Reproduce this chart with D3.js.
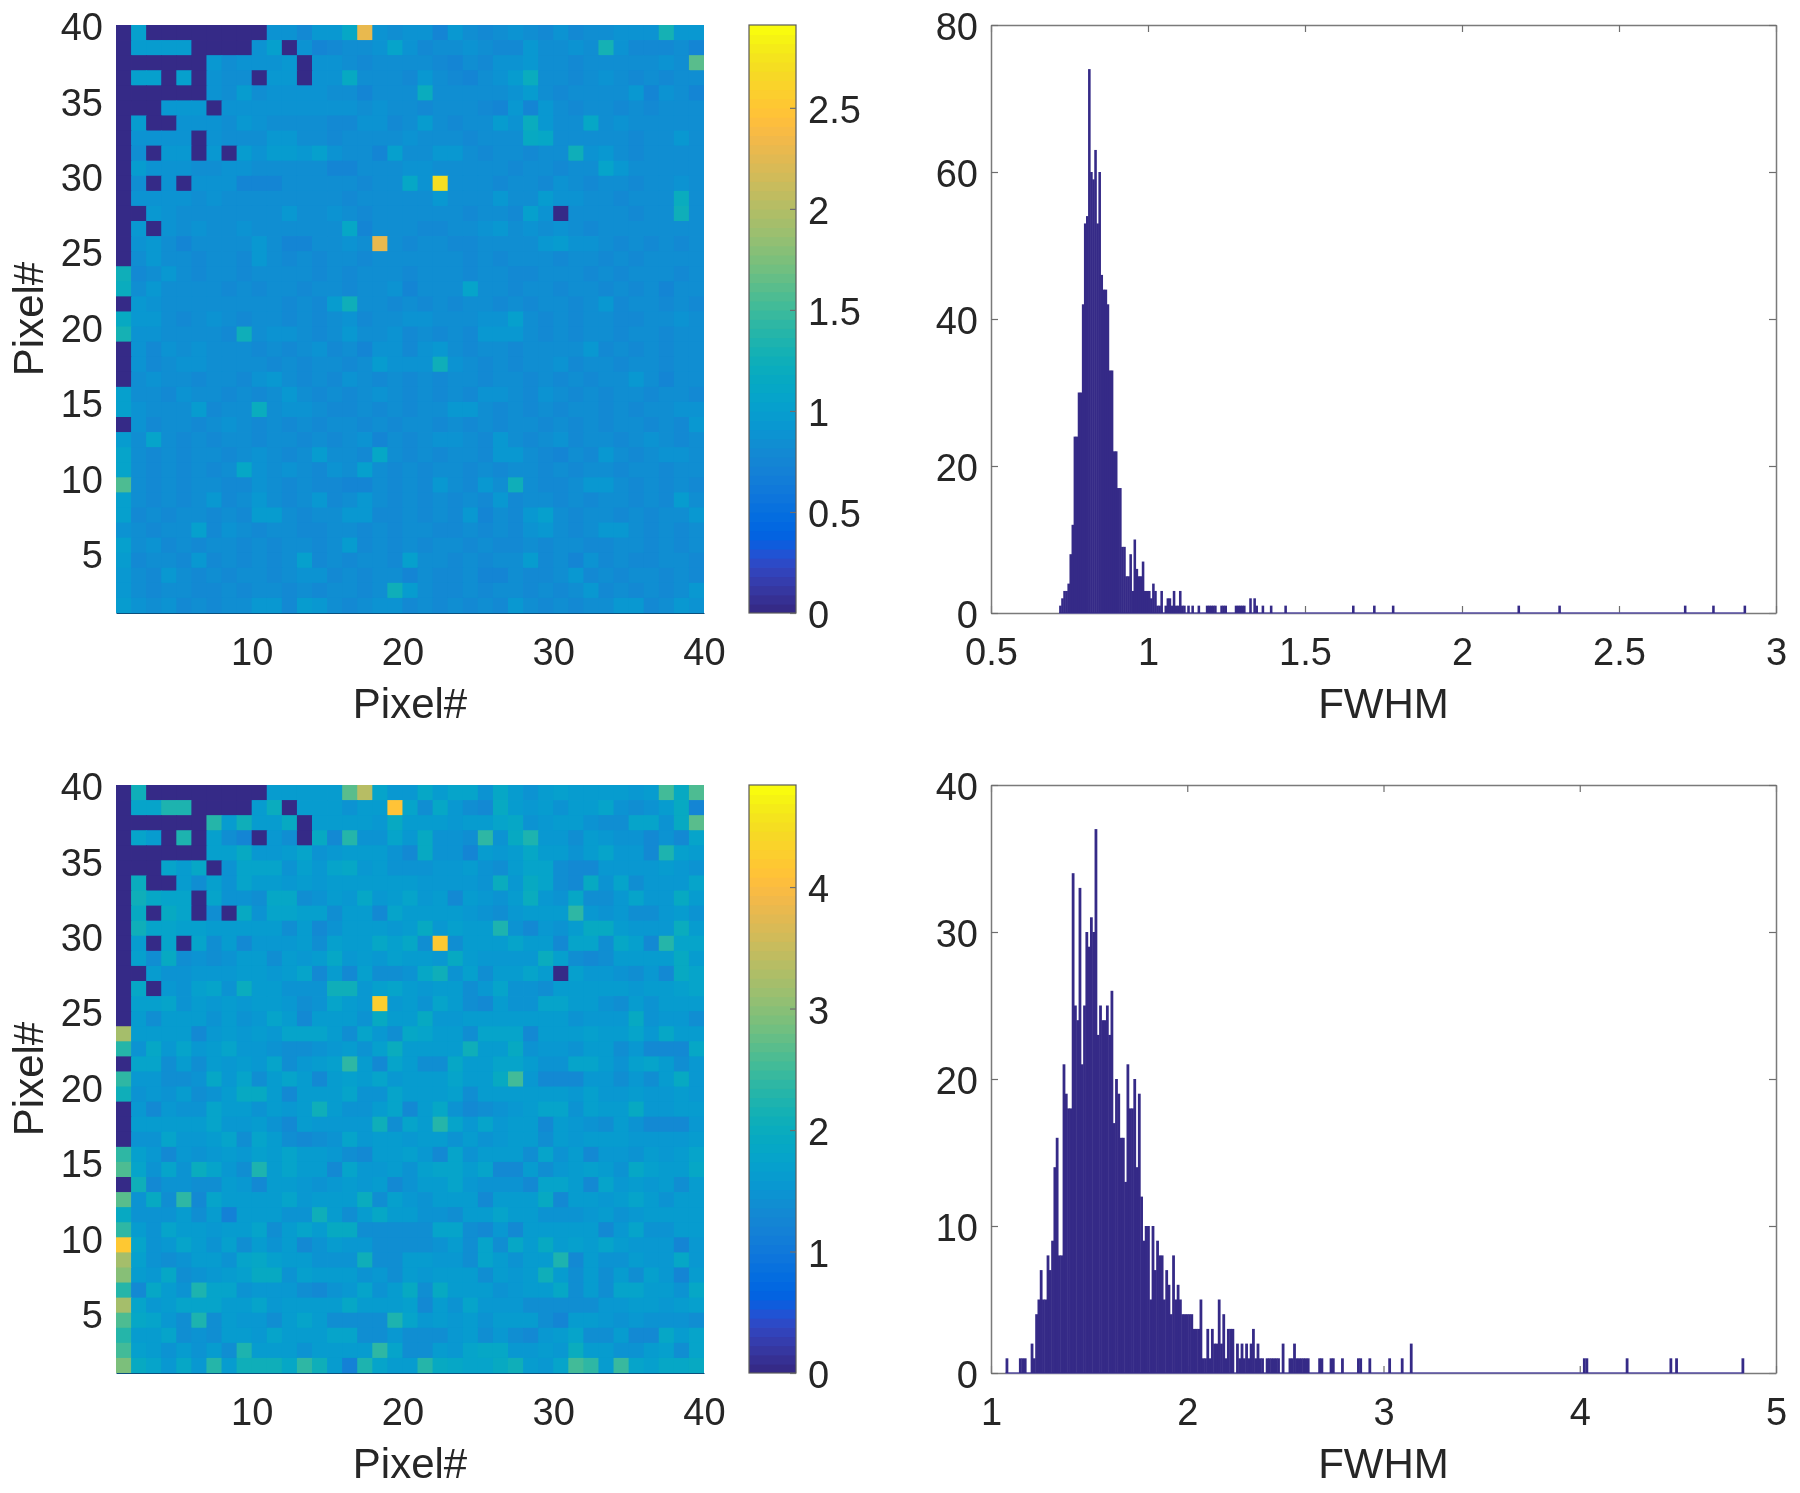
<!DOCTYPE html>
<html>
<head>
<meta charset="utf-8">
<title>FWHM maps</title>
<script src="https://cdn.jsdelivr.net/npm/d3@7"></script>
<style>
  html, body { margin: 0; background: #fff; }
  svg { display: block; filter: blur(0.6px); }
  text { font-family: "Liberation Sans", Arial, sans-serif; fill: #262626; }
</style>
</head>
<body>
<svg id="chart" width="1800" height="1493"></svg>
<script>
// FWHM per pixel, hundredths, top row (y = 39..40) first
const fwhmMapTop = [
  [0,102,0,0,0,0,0,0,0,0, 89,89,81,92,92,110,230,87,83,89, 89,77,92,85,79,85,87,85,79,89, 79,85,83,87,87,87,130,92,92],
  [0,97,97,97,97,0,0,0,0,87, 102,0,87,77,79,83,83,87,105,87, 79,85,85,87,83,80,80,92,85,85, 87,85,130,87,80,80,80,82,77],
  [0,0,0,0,0,0,92,82,87,87, 89,95,0,89,87,83,81,83,85,83, 82,81,77,82,80,87,87,92,83,82, 81,82,83,85,85,83,87,85,160],
  [0,102,102,0,102,0,87,83,82,0, 92,92,0,89,87,115,83,83,85,81, 92,85,81,75,82,89,97,120,85,82, 81,82,87,82,80,82,81,82,85],
  [0,0,0,0,0,0,87,83,97,85, 87,87,87,87,85,83,77,83,85,83, 120,85,83,82,85,83,87,97,85,81, 82,83,83,85,92,77,89,83,77],
  [0,0,0,95,95,95,0,87,87,87, 87,89,87,87,87,87,85,87,83,85, 81,85,83,85,81,75,92,77,92,82, 80,85,82,81,82,81,85,83,85],
  [0,97,0,0,87,89,89,85,92,89, 85,85,83,85,81,79,87,87,80,85, 97,82,79,85,83,97,89,120,92,85, 83,110,82,89,85,83,85,82,82],
  [0,89,89,89,89,0,87,85,82,82, 95,95,85,82,81,82,85,85,83,87, 85,83,82,81,85,83,85,115,110,85, 83,82,85,82,81,85,82,92,85],
  [0,85,0,92,92,0,92,0,97,87, 97,99,92,102,87,85,83,77,102,83, 82,92,92,82,81,85,82,80,85,82, 125,87,92,82,81,85,82,85,82],
  [0,97,89,87,87,85,82,87,87,85, 85,83,85,83,77,77,82,85,85,87, 89,85,83,82,85,82,81,85,83,79, 82,85,107,95,85,83,85,85,85],
  [0,82,0,89,0,87,87,89,77,77, 77,82,85,83,85,82,81,85,83,110, 87,270,82,85,82,80,82,82,81,87, 82,81,82,82,80,82,85,87,85],
  [0,89,89,89,89,82,87,82,85,85, 83,85,82,85,82,81,82,85,85,83, 85,95,83,85,82,95,85,82,97,87, 87,82,82,81,82,85,85,120,82],
  [0,0,92,87,82,85,85,83,85,83, 85,92,82,85,87,82,81,83,85,85, 83,82,82,80,82,82,81,102,87,0, 85,83,82,82,81,82,85,125,82],
  [0,92,0,87,85,87,85,83,89,82, 85,83,82,85,82,110,77,85,82,83, 79,79,82,85,89,92,82,89,85,87, 82,81,85,83,82,82,85,85,82],
  [0,87,92,82,77,85,85,82,85,92, 82,77,77,82,85,87,82,230,82,79, 85,83,79,79,82,85,83,85,92,99, 89,87,82,81,82,80,82,81,82],
  [0,85,92,82,82,81,82,82,79,92, 82,81,82,80,82,82,81,85,85,82, 85,83,82,81,82,80,82,82,82,81, 85,82,80,82,81,82,85,82,82],
  [125,79,82,92,82,81,82,82,79,85, 85,83,82,81,82,80,82,82,85,81, 85,83,82,79,85,82,81,79,82,82, 82,80,82,81,82,82,85,81,82],
  [120,85,92,82,85,85,82,81,82,80, 82,82,81,82,82,80,82,82,89,77, 85,85,83,107,85,82,81,85,82,81, 82,82,81,82,80,82,77,82,82],
  [0,92,87,85,85,83,85,85,82,85, 82,81,82,80,97,125,85,82,81,82, 80,82,81,82,82,80,82,81,82,82, 80,82,92,81,82,82,81,82,80],
  [115,92,92,82,81,82,87,82,81,85, 82,80,82,81,82,87,79,82,82,89, 89,85,85,83,87,89,102,82,81,82, 80,82,82,81,80,85,85,87,82],
  [130,89,87,82,82,85,82,81,125,85, 87,87,82,81,85,92,82,82,89,81, 82,80,82,81,92,92,95,82,80,82, 81,82,82,80,82,82,81,85,82],
  [0,87,79,87,82,89,85,82,82,81, 82,79,82,89,81,82,77,89,89,79, 87,92,82,81,82,82,80,82,85,82, 82,92,79,82,81,82,80,82,82],
  [0,89,79,85,89,89,85,85,83,82, 81,82,80,82,82,81,82,97,89,89, 89,125,87,82,81,82,80,82,82,89, 81,82,82,80,82,82,81,82,82],
  [0,85,89,85,82,81,82,82,81,89, 92,82,81,82,80,89,82,81,82,80, 82,81,82,82,80,82,82,81,82,80, 82,81,82,82,95,82,77,85,82],
  [102,85,82,81,89,82,82,80,82,81, 82,92,82,81,82,80,82,89,82,81, 82,80,82,81,89,89,82,81,89,82, 80,82,81,82,82,80,82,82,81],
  [102,87,82,82,85,97,79,85,82,120, 82,89,89,82,81,80,82,81,82,80, 82,82,92,92,82,81,82,80,82,81, 82,82,80,82,81,82,82,89,89],
  [0,87,81,82,82,80,82,87,82,81, 82,80,82,81,82,82,80,82,81,82, 82,80,82,81,82,80,82,82,81,82, 80,82,81,82,82,80,82,81,92],
  [97,85,105,82,81,82,80,82,82,81, 85,82,81,82,80,82,89,77,82,81, 82,89,89,82,81,92,82,80,82,89, 81,82,82,80,82,87,82,79,82],
  [105,82,81,82,80,82,82,81,82,89, 82,80,82,99,82,82,81,110,82,80, 82,81,82,82,80,92,92,82,81,77, 82,80,92,82,81,82,89,89,82],
  [105,82,79,82,81,82,80,82,110,89, 82,89,82,81,89,82,102,82,80,82, 81,82,82,80,82,81,82,82,80,82, 81,82,82,80,82,82,81,82,82],
  [155,82,81,82,80,82,82,81,79,87, 82,80,82,81,79,77,77,82,81,82, 80,92,82,79,95,82,125,82,81,80, 82,92,92,82,81,82,79,82,81],
  [102,82,79,82,81,82,95,80,82,95, 82,81,82,92,80,82,95,82,81,82, 80,82,81,82,80,92,79,85,82,81, 82,80,82,82,81,82,80,99,82],
  [102,81,82,80,82,82,81,82,80,99, 97,82,81,82,82,92,92,80,79,82, 81,82,80,92,77,82,81,92,102,82, 80,82,82,81,82,80,82,82,92],
  [89,82,81,82,82,102,80,89,82,81, 82,82,80,81,82,82,80,82,81,82, 82,80,79,82,81,82,80,89,92,82, 81,82,92,92,82,80,82,81,82],
  [102,82,87,80,82,81,82,82,80,82, 81,82,82,80,82,97,81,82,80,82, 81,82,82,80,82,81,79,82,80,82, 82,81,80,82,82,81,82,80,82],
  [97,81,82,82,80,95,79,82,81,82, 79,82,102,81,82,80,82,82,81,102, 85,82,80,82,81,82,82,97,80,82, 75,87,79,82,81,80,82,82,81],
  [95,82,80,92,82,81,82,80,82,82, 81,82,89,89,80,82,81,82,82,77, 82,79,81,82,77,77,82,79,79,82, 92,81,82,80,82,82,81,82,80],
  [95,82,81,82,82,79,80,82,81,82, 82,80,82,81,82,82,80,82,125,99, 82,79,81,82,80,82,82,81,82,80, 82,95,79,82,81,82,80,82,92],
  [97,89,82,89,81,82,80,82,82,95, 95,81,99,92,82,80,82,89,89,81, 82,79,82,80,82,81,95,82,80,82, 81,82,82,92,92,81,82,92,87]
];

const fwhmMapBottom = [
  [0,205,0,0,0,0,0,0,0,0, 160,160,160,165,165,270,340,180,155,155, 185,160,180,175,150,185,160,150,165,170, 165,160,165,165,155,160,250,190,260],
  [0,175,180,220,225,0,0,0,0,160, 200,0,160,160,160,145,165,160,410,180, 140,185,155,140,135,190,160,155,160,150, 160,160,180,145,140,145,165,195,125],
  [0,0,0,0,0,0,230,165,205,160, 165,190,0,165,160,160,160,155,190,160, 160,160,155,160,165,180,185,145,155,160, 160,150,140,140,180,175,145,190,270],
  [0,180,165,0,225,0,170,140,125,0, 155,140,0,190,130,230,145,145,175,155, 195,145,145,140,235,145,195,220,155,155, 140,160,155,145,145,135,150,135,180],
  [0,0,0,0,0,0,170,170,195,155, 155,165,180,150,155,160,160,165,145,130, 195,145,145,125,160,155,165,185,160,160, 150,160,175,155,155,135,220,170,160],
  [0,0,0,180,160,185,0,145,175,175, 175,145,170,155,175,185,155,160,150,145, 145,155,155,160,145,140,160,175,180,140, 130,135,155,155,155,155,160,155,150],
  [0,200,0,0,165,140,170,150,180,160, 160,155,160,155,160,160,160,160,160,160, 155,155,155,155,145,200,155,190,175,140, 135,190,150,175,140,155,155,155,180],
  [0,205,185,180,180,0,180,145,145,140, 185,185,140,150,160,155,185,155,160,175, 155,160,135,160,155,150,160,200,155,145, 185,140,140,155,180,155,155,190,160],
  [0,190,0,190,180,0,140,0,190,150, 175,175,170,170,140,160,160,130,180,160, 160,165,160,155,150,140,155,160,160,160, 235,155,150,155,140,140,155,165,150],
  [0,210,180,180,170,170,165,160,160,160, 165,140,160,135,145,160,165,165,155,160, 195,155,170,160,160,225,150,135,155,145, 165,190,190,160,155,155,155,200,165],
  [0,165,0,175,0,175,140,160,135,155, 155,155,160,140,170,160,160,185,170,185, 140,420,140,160,160,160,180,160,160,135, 175,175,140,185,170,135,230,175,175],
  [0,170,140,195,140,145,140,150,160,165, 140,160,155,160,185,155,165,155,170,165, 160,155,190,160,155,155,155,155,200,170, 140,135,140,160,165,160,165,190,160],
  [0,0,165,145,150,155,155,155,160,160, 155,160,175,130,165,135,170,140,140,145, 185,205,145,170,140,160,160,175,165,0, 170,155,155,150,140,155,135,195,175],
  [0,185,0,155,145,170,180,145,200,160, 160,145,145,150,205,205,155,170,180,160, 155,160,160,140,155,175,145,150,140,160, 160,160,160,160,155,160,160,170,175],
  [0,170,170,175,145,160,155,160,155,160, 165,155,140,145,175,165,155,430,155,160, 145,180,160,140,135,165,145,145,180,180, 160,160,150,140,160,145,160,160,160],
  [0,165,140,160,160,160,150,160,145,155, 180,160,135,165,160,160,150,190,160,160, 195,155,155,165,165,165,165,165,165,160, 150,155,155,155,195,150,155,155,140],
  [320,160,160,160,165,135,155,160,155,160, 155,175,175,180,160,140,180,155,140,185, 175,160,165,140,180,180,180,130,160,165, 165,170,165,165,175,155,185,165,165],
  [230,145,185,155,180,155,160,175,155,155, 150,140,140,150,155,160,145,170,200,165, 165,160,160,205,165,165,190,145,155,155, 145,165,165,140,155,135,135,135,185],
  [0,175,180,140,160,140,160,155,160,155, 180,140,155,165,170,240,160,135,180,160, 140,140,185,160,165,175,180,160,145,150, 175,180,165,145,170,175,160,140,155],
  [240,155,155,140,140,145,185,155,180,140, 165,180,165,135,165,170,165,180,155,160, 165,165,175,165,165,190,250,155,135,135, 135,155,155,140,155,140,160,190,155],
  [205,150,155,145,165,140,145,160,190,190, 165,130,165,165,165,180,150,150,180,160, 160,160,170,140,160,160,160,160,160,160, 155,170,155,155,160,155,155,160,155],
  [0,155,130,155,145,145,175,160,160,150, 165,155,160,205,160,145,145,165,175,135, 160,185,145,135,140,145,155,165,175,180, 150,170,165,165,190,155,155,160,160],
  [0,160,160,160,160,165,180,155,155,165, 150,135,165,155,155,155,155,205,140,175, 160,230,175,155,175,155,160,160,135,165, 155,150,140,160,145,135,135,135,155],
  [0,145,150,180,155,155,165,175,140,175, 160,140,130,140,145,175,155,160,160,155, 160,160,150,160,145,155,165,165,140,165, 155,160,160,165,155,155,155,155,160],
  [240,170,155,130,155,145,155,160,155,170, 160,180,160,160,155,140,135,160,160,170, 155,135,180,150,165,160,160,140,180,145, 160,135,155,155,145,160,155,160,175],
  [260,175,145,180,145,200,180,155,140,225, 160,180,160,160,135,175,155,155,160,145, 170,180,180,160,175,135,135,165,140,155, 165,170,160,145,185,170,165,160,185],
  [0,210,135,150,145,140,140,165,155,135, 160,160,155,150,155,160,155,160,130,145, 160,160,180,155,145,145,145,135,180,180, 160,135,175,155,160,155,160,140,160],
  [270,150,195,140,235,135,175,165,160,160, 160,180,155,160,160,165,200,140,170,155, 150,160,160,160,135,160,165,160,195,130, 160,160,155,160,180,160,150,160,165],
  [195,150,150,145,160,140,160,120,165,165, 160,145,145,205,165,140,160,185,160,165, 145,145,140,160,160,180,160,165,150,150, 150,155,165,145,155,165,160,160,160],
  [240,160,145,175,160,160,155,160,165,175, 140,160,175,160,190,190,140,140,140,140, 140,175,175,140,135,155,135,160,160,160, 160,160,135,155,180,145,150,160,160],
  [420,175,150,155,180,165,145,170,140,160, 145,165,135,145,160,155,155,140,140,140, 140,145,160,140,175,140,185,160,190,160, 170,160,180,165,155,155,155,125,155],
  [320,170,145,140,145,165,165,145,175,185, 170,160,160,150,145,150,205,140,140,160, 160,155,155,140,180,160,145,160,160,225, 135,165,150,150,160,155,155,185,155],
  [300,165,155,185,140,150,155,160,170,195, 195,150,170,160,165,165,145,155,140,160, 155,160,165,160,140,160,155,160,205,165, 140,160,140,160,140,170,155,125,160],
  [230,130,185,165,145,225,175,175,150,155, 155,155,140,135,150,155,180,145,160,195, 140,195,160,160,160,150,155,160,165,185, 140,165,140,180,180,165,160,145,185],
  [320,175,155,160,180,180,180,160,160,180, 155,165,160,160,160,185,160,160,165,170, 130,160,150,180,155,155,155,140,140,140, 140,140,155,155,165,165,155,165,170],
  [260,185,180,155,140,220,140,160,155,155, 140,160,180,165,140,140,140,140,225,180, 155,160,155,165,145,165,165,165,140,125, 160,165,155,150,155,145,145,145,140],
  [230,160,160,180,140,145,140,160,165,155, 180,160,160,160,180,180,140,140,155,140, 140,140,155,160,140,155,140,135,155,160, 180,140,140,165,135,130,185,160,180],
  [250,170,165,150,165,145,165,140,220,165, 165,160,145,160,165,160,160,240,175,140, 140,160,155,180,185,185,155,155,160,155, 200,165,165,145,150,160,170,140,175],
  [290,190,175,155,185,155,230,160,205,205, 205,185,240,205,160,120,225,175,165,165, 230,190,185,180,180,190,205,160,155,175, 250,235,165,245,175,170,185,185,190]
];

// histogram counts, one entry per bin from the first bin on
const histTopCounts = [1,2,3,3,4,8,12,24,24,30,30,42,53,54,74,60,59,63,53,60,46,44,44,42,33,33,22,22,17,17,9,9,5,5,8,3,10,6,5,5,7,3,3,3,2,4,3,1,1,3,0,1,2,2,1,3,1,1,3,1,1,0,1,0,1,0,0,1,0,0,0,1,1,1,1,1,0,0,1,1,1,0,0,0,0,1,1,1,1,1,0,0,2,0,2,1,0,0,1,0,0,0,1,0,0,0,0,0,0,1];
const histTopStart = 0.717;
const histTopBin = 0.00658;
const histTopExtra = [1.653, 1.72, 1.78, 2.18, 2.31, 2.71, 2.8, 2.9];

const histBottomCounts = [2,1,4,5,7,5,5,8,7,9,14,16,8,8,21,19,18,18,34,25,24,33,21,25,30,29,31,30,37,23,25,24,24,25,23,26,17,20,19,16,16,13,21,18,18,20,14,19,12,9,10,10,5,10,7,9,8,8,5,7,6,4,8,5,6,5,4,4,4,4,4,3,3,3,5,1,1,3,1,3,2,2,5,2,4,1,3,3,3,0,2,1,2,1,2,1,2,3,1,2,1,1,0,1,1,1,1,1,1,0,2,0,0,1,1,2,1,1,1,1,1,1,0,0,0,0,1,1,0,0,0,1,1,0,0,0,1,0,0,0,0,0,0,1,1,0,0,0,1];
const histBottomStart = 1.202;
const histBottomBin = 0.01163;
const histBottomExtra = [1.08, 1.148, 1.16, 1.173, 3.03, 3.094, 3.14, 3.14, 4.022, 4.035, 4.24, 4.463, 4.492, 4.83];

const pixelTicksX = [10, 20, 30, 40];
const pixelTicksY = [5, 10, 15, 20, 25, 30, 35, 40];
const colorbarTopTicks = [0, 0.5, 1, 1.5, 2, 2.5];
const colorbarBottomTicks = [0, 1, 2, 3, 4];
const histTopTicksX = [0.5, 1, 1.5, 2, 2.5, 3];
const histTopTicksY = [0, 20, 40, 60, 80];
const histBottomTicksX = [1, 2, 3, 4, 5];
const histBottomTicksY = [0, 10, 20, 30, 40];

// parula, 64 steps
const parula = [[.2081,.1663,.5292],[.2116,.1898,.5777],[.2123,.2138,.627],[.2081,.2386,.6771],[.1959,.2645,.7279],[.1707,.2919,.7792],[.1253,.3242,.8303],[.0591,.3598,.8683],[.0117,.3875,.882],[.006,.4086,.8828],[.0165,.4266,.8786],[.0329,.443,.872],[.0498,.4586,.8641],[.0629,.4737,.8554],[.0723,.4887,.8467],[.0779,.504,.8384],[.0793,.52,.8312],[.0749,.5375,.8263],[.0641,.557,.824],[.0488,.5772,.8228],[.0343,.5966,.8199],[.0265,.6137,.8135],[.0239,.6287,.8038],[.0231,.6418,.7913],[.0228,.6535,.7768],[.0267,.6642,.7607],[.0384,.6743,.7436],[.059,.6838,.7254],[.0843,.6928,.7062],[.1133,.7015,.6859],[.1453,.7098,.6646],[.1801,.7177,.6424],[.2178,.725,.6193],[.2586,.7317,.5954],[.3022,.7376,.5712],[.3482,.7424,.5473],[.3953,.7459,.5244],[.442,.7481,.5033],[.4871,.7491,.484],[.53,.7491,.4661],[.5709,.7485,.4494],[.6099,.7473,.4337],[.6473,.7456,.4188],[.6834,.7435,.4044],[.7184,.7411,.3905],[.7525,.7384,.3768],[.7858,.7356,.3633],[.8185,.7327,.3498],[.8507,.7299,.336],[.8824,.7274,.3217],[.9139,.7258,.3063],[.945,.7261,.2886],[.9739,.7314,.2666],[.9938,.7455,.2403],[.999,.7653,.2164],[.9955,.7861,.1967],[.988,.8066,.1794],[.9789,.8271,.1633],[.9697,.8481,.1475],[.9626,.8705,.1309],[.9589,.8949,.1132],[.9598,.9218,.0948],[.9661,.9514,.0755],[.9763,.9831,.0538]]
  .map((c) => d3.rgb(c[0] * 255, c[1] * 255, c[2] * 255).formatHex());

const svg = d3.select("#chart");

const tickFont = 38;
const labelFont = 42;
const boxColor = "#7a7a7a";

function styleTicks(axisG) {
  axisG.selectAll("text").attr("font-size", tickFont).attr("fill", "#262626");
  axisG.selectAll("line").attr("stroke", "#6e6e6e").attr("stroke-width", 1.2);
  axisG.select(".domain").attr("stroke", boxColor).attr("stroke-width", 1.5);
}

function addLabels(left, right, top, bottom, xName, yName) {
  svg.append("text")
    .attr("x", (left + right) / 2)
    .attr("y", bottom + 105)
    .attr("text-anchor", "middle")
    .attr("font-size", labelFont)
    .text(xName);
  if (yName) {
    svg.append("text")
      .attr("transform", `translate(43,${(top + bottom) / 2}) rotate(-90)`)
      .attr("text-anchor", "middle")
      .attr("font-size", labelFont)
      .text(yName);
  }
}

function drawMap(matrix, top, maxValue, barTicks) {
  const left = 116, right = 704, bottom = top + 588;
  const x = d3.scaleLinear().domain([1, 40]).range([left, right]);
  const y = d3.scaleLinear().domain([1, 40]).range([bottom, top]);
  const color = d3.scaleQuantize().domain([0, maxValue]).range(parula);

  matrix.forEach((row, r) => {
    svg.append("g").selectAll("rect")
      .data(row)
      .enter()
      .append("rect")
      .attr("x", (d, c) => x(c + 1))
      .attr("y", y(40 - r))
      .attr("width", (d, c) => Math.min(x(c + 2) + 0.8, right) - x(c + 1))
      .attr("height", Math.min(y(39 - r) + 0.8, bottom) - y(40 - r))
      .attr("fill", (d) => color(d / 100));
  });

  const xAxis = svg.append("g")
    .attr("transform", `translate(0,${bottom})`)
    .call(d3.axisBottom(x).tickValues(pixelTicksX).tickSize(0).tickPadding(25));
  styleTicks(xAxis);
  xAxis.select(".domain").attr("stroke", "#0b4f7c").attr("stroke-width", 1.2);

  const yAxis = svg.append("g")
    .attr("transform", `translate(${left},0)`)
    .call(d3.axisLeft(y).tickValues(pixelTicksY).tickSize(0).tickPadding(13));
  styleTicks(yAxis);
  yAxis.selectAll("text").attr("dy", "0.39em");
  yAxis.select(".domain").remove();

  // colorbar
  const barLeft = 749, barRight = 796;
  const cy = d3.scaleLinear().domain([0, maxValue]).range([bottom, top]);
  const steps = color.thresholds().concat([maxValue]);
  svg.append("g").selectAll("rect")
    .data(parula)
    .enter()
    .append("rect")
    .attr("x", barLeft)
    .attr("width", barRight - barLeft)
    .attr("y", (d, i) => cy(steps[i]))
    .attr("height", (d, i) => Math.min(cy(steps[i]) + (bottom - top) / parula.length + 0.8, bottom) - cy(steps[i]))
    .attr("fill", (d) => d);
  svg.append("rect")
    .attr("x", barLeft).attr("y", top)
    .attr("width", barRight - barLeft).attr("height", bottom - top)
    .attr("fill", "none").attr("stroke", "#5a5a5a").attr("stroke-width", 1.2);
  const barAxis = svg.append("g")
    .attr("transform", `translate(${barRight},0)`)
    .call(d3.axisRight(cy).tickValues(barTicks).tickSizeInner(-6).tickSizeOuter(0).tickPadding(12).tickFormat((d) => d));
  styleTicks(barAxis);
  barAxis.selectAll("text").attr("dy", "0.39em");
  barAxis.select(".domain").remove();

  addLabels(left, right, top, bottom, "Pixel#", "Pixel#");
}

function drawHist(counts, start, bin, extra, top, xDomain, yMax, ticksX, ticksY) {
  const left = 991, right = 1776, bottom = top + 588;
  const x = d3.scaleLinear().domain(xDomain).range([left, right]);
  const y = d3.scaleLinear().domain([0, yMax]).range([bottom, top]);

  // box with mirrored ticks
  const mirrorTop = svg.append("g").attr("transform", `translate(0,${top})`)
    .call(d3.axisTop(x).tickValues(ticksX).tickSizeInner(-7).tickSizeOuter(0).tickFormat(""));
  const mirrorRight = svg.append("g").attr("transform", `translate(${right},0)`)
    .call(d3.axisRight(y).tickValues(ticksY).tickSizeInner(-7).tickSizeOuter(0).tickFormat(""));
  styleTicks(mirrorTop);
  styleTicks(mirrorRight);

  const bars = counts
    .map((c, i) => ({ lo: start + i * bin, n: c }))
    .filter((d) => d.n > 0)
    .concat(extra.map((v) => ({ lo: v - bin / 2, n: 1 })));
  const merged = d3.rollup(bars, (v) => d3.sum(v, (d) => d.n), (d) => d.lo);

  const xAxis = svg.append("g").attr("transform", `translate(0,${bottom})`)
    .call(d3.axisBottom(x).tickValues(ticksX).tickSizeInner(-7).tickSizeOuter(0).tickPadding(25).tickFormat((d) => d));
  const yAxis = svg.append("g").attr("transform", `translate(${left},0)`)
    .call(d3.axisLeft(y).tickValues(ticksY).tickSizeInner(-7).tickSizeOuter(0).tickPadding(13));
  styleTicks(xAxis);
  styleTicks(yAxis);
  yAxis.selectAll("text").attr("dy", "0.39em");

  const lo = d3.min(bars, (d) => d.lo);
  const hi = d3.max(bars, (d) => d.lo) + bin;
  svg.append("line")
    .attr("x1", x(lo)).attr("x2", x(hi))
    .attr("y1", bottom).attr("y2", bottom)
    .attr("stroke", "#5d55a8").attr("stroke-width", 1.5);

  svg.append("g").selectAll("rect")
    .data(Array.from(merged))
    .enter()
    .append("rect")
    .attr("x", (d) => x(d[0]))
    .attr("width", (d) => x(d[0] + bin) - x(d[0]) + 0.5)
    .attr("y", (d) => y(d[1]))
    .attr("height", (d) => bottom - y(d[1]))
    .attr("fill", "#352a87");

  addLabels(left, right, top, bottom, "FWHM", null);
}

drawMap(fwhmMapTop, 25, 2.91, colorbarTopTicks);
drawMap(fwhmMapBottom, 785, 4.84, colorbarBottomTicks);
drawHist(histTopCounts, histTopStart, histTopBin, histTopExtra, 25, [0.5, 3], 80, histTopTicksX, histTopTicksY);
drawHist(histBottomCounts, histBottomStart, histBottomBin, histBottomExtra, 785, [1, 5], 40, histBottomTicksX, histBottomTicksY);
</script>
</body>
</html>
